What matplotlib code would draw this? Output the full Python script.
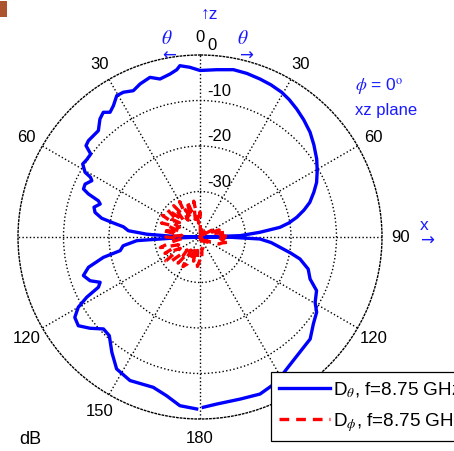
import numpy as np
import matplotlib
matplotlib.use("Agg")
import matplotlib.pyplot as plt
from matplotlib.patches import Rectangle

plt.rcParams['font.family'] = ['Liberation Sans', 'DejaVu Sans']
plt.rcParams['mathtext.fontset'] = 'stix'
plt.rcParams['lines.scale_dashes'] = False

# D_theta in dB, phi = 180 half (drawn on the left), angle from +z
theta_left = [178.9, 173.2, 168.1, 162.7, 154.0, 147.7, 142.6, 137.4, 133.6, 129.7,
              126.1, 122.7, 120.0, 118.0, 116.3, 114.4, 111.7, 108.3, 105.2, 101.9,
              99.7, 96.5, 93.3, 92.5, 90.0, 88.5, 87.0, 85.0, 82.4, 80.8,
              79.2, 76.8, 74.3, 71.7, 70.4, 68.9, 67.6, 65.3, 62.5, 61.4,
              60.6, 58.1, 55.7, 52.8, 51.3, 49.2, 46.5, 43.7, 40.3, 37.8,
              35.8, 33.4, 30.5, 27.9, 24.5, 21.4, 17.4, 14.2, 10.4, 7.9,
              6.7, 3.4]
dtheta_left = [-2.2, -2.66, -4.35, -5.4, -4.9, -5.7, -8.1, -10.55, -10.7, -8.6,
               -6.9, -7.3, -9.1, -11.8, -15.1, -15.9, -14.0, -13.0, -14.6, -18.3,
               -22.2, -23.0, -26.1, -33.4, -40.0, -34.0, -28.3, -24.2, -23.0, -20.7,
               -18.0, -16.3, -15.8, -16.9, -16.3, -13.7, -12.3, -12.2, -13.2, -12.6,
               -11.0, -9.63, -9.85, -9.85, -7.9, -7.6, -7.67, -7.67, -6.0, -5.32,
               -6.2, -5.43, -3.95, -4.0, -4.66, -3.88, -3.23, -4.18, -3.58, -2.88,
               -2.09, -2.64]

# D_theta in dB, phi = 0 half (drawn on the right)
theta_right = [0.0, 5.7, 11.3, 16.0, 20.8, 25.0, 29.4, 33.0, 37.1, 41.5,
               46.4, 51.0, 56.2, 60.5, 64.9, 68.5, 72.5, 75.5, 78.5, 81.0,
               83.1, 85.5, 88.1, 90.0, 90.6, 91.9, 94.5, 97.3, 100.0, 102.4,
               106.5, 110.9, 114.7, 119.6, 122.8, 127.5, 132.8, 139.1, 146.7, 152.2,
               159.1, 166.1, 174.3, 178.9]
dtheta_right = [-3.4, -3.05, -2.5, -2.6, -2.86, -3.1, -3.47, -4.0, -4.75, -5.6,
                -6.6, -7.8, -9.14, -10.4, -11.7, -13.1, -14.7, -16.4, -18.3, -20.2,
                -22.3, -26.8, -31.2, -40.0, -33.0, -26.8, -24.3, -22.3, -19.8, -17.5,
                -15.2, -14.1, -11.8, -10.9, -9.5, -8.6, -7.0, -6.5, -5.3, -3.9,
                -3.05, -3.3, -3.1, -2.57]

# D_phi in dB, signed angle (negative = phi 180 half)
phi_ang = list(range(-180, 181, 5))
dphi = [-35.0, -33.5, -37.0, -34.5, -37.5, -33.5, -32.5, -36.5, -32.5, -36.0,
        -31.5, -30.8, -35.0, -31.5, -35.0, -31.0, -33.5, -36.0, -32.5, -36.0,
        -31.5, -35.5, -31.0, -35.0, -30.5, -34.5, -30.5, -35.0, -31.0, -35.5,
        -31.0, -35.5, -31.5, -36.0, -32.0, -37.0, -34.5, -39.0, -37.5, -39.5,
        -38.5, -40.0, -39.0, -40.0, -38.5, -39.5, -38.0, -39.0, -37.0, -38.0,
        -35.5, -37.0, -34.0, -35.5, -33.5, -35.5, -33.5, -35.0, -35.5, -37.5,
        -38.5, -38.0, -39.5, -38.5, -40.0, -39.0, -40.0, -39.0, -39.5, -37.5,
        -37.5, -35.5, -35.0]

ang_theta = np.radians(np.concatenate([-np.array(theta_left), theta_right]))
d_theta = np.concatenate([dtheta_left, dtheta_right])

W, H = 454, 452
fig = plt.figure(figsize=(W / 100, H / 100), dpi=100)


def fx(x, y):
    return x / W, 1 - y / H


ax = fig.add_axes([18 / W, 32 / H, 364 / W, 364 / H], projection='polar')
ax.set_theta_zero_location('N')
ax.set_theta_direction(-1)
ax.set_rlim(-40, 0)
ax.set_thetagrids(range(0, 360, 30), [''] * 12)
ax.set_rgrids([-30, -20, -10], [''] * 3)
ax.grid(True, color='black', linestyle=':', linewidth=1.0)
ax.spines['polar'].set_linestyle(':')
ax.spines['polar'].set_linewidth(1.0)
ax.tick_params(length=0)

l1, = ax.plot(ang_theta, d_theta, color='#0000ff', lw=2.4,
              solid_joinstyle='round', label=r'D$_\theta$, f=8.75 GHz')
l2, = ax.plot(np.radians(phi_ang), dphi, color='#ff0000', lw=2.4,
              linestyle=(0, (7, 5)), label=r'D$_\phi$, f=8.75 GHz')

# angle labels: 0..180 on both sides
tick_ang = [0, 30, 60, 90, 120, 150, 180, 210, 240, 300, 330]
tick_txt = ['0', '30', '60', '90', '120', '150', '180', '150', '120', '60', '30']
for a, t in zip(tick_ang, tick_txt):
    ax.text(np.radians(a), 4.0, t, ha='center', va='center', fontsize=12,
            clip_on=False)

# dB labels next to the z axis
for r in [0, -10, -20, -30]:
    ax.annotate(str(r), xy=(0, r), xytext=(5.5, 7.2), textcoords='offset points',
                ha='left', va='center', fontsize=12)

blue = '#1a1aff'
fig.text(*fx(209, 14), '↑z', color=blue, ha='center', va='center', fontsize=12.5)
fig.text(*fx(167, 39), r'$\theta$', color=blue, ha='center', va='center', fontsize=14)
fig.text(*fx(169, 56), '←', color=blue, ha='center', va='center', fontsize=12,
         family='DejaVu Sans')
fig.text(*fx(243, 39), r'$\theta$', color=blue, ha='center', va='center', fontsize=14)
fig.text(*fx(246, 56), '→', color=blue, ha='center', va='center', fontsize=12,
         family='DejaVu Sans')
fig.text(*fx(355, 87), r'$\phi$ = 0$^{\rm o}$', color=blue, ha='left', va='center',
         fontsize=12.5)
fig.text(*fx(355, 110), 'xz plane', color=blue, ha='left', va='center', fontsize=12)
fig.text(*fx(424, 226), 'x', color=blue, ha='center', va='center', fontsize=12.5)
fig.text(*fx(427, 241), '→', color=blue, ha='center', va='center', fontsize=12,
         family='DejaVu Sans')
fig.text(*fx(30, 440), 'dB', ha='center', va='center', fontsize=13)

leg = fig.legend(handles=[l1, l2], loc='upper left',
                 bbox_to_anchor=fx(270.7, 372.7), bbox_transform=fig.transFigure,
                 borderaxespad=0, fontsize=13.6, frameon=True, fancybox=False,
                 framealpha=1, edgecolor='black', handlelength=2.7,
                 handletextpad=0.17, borderpad=0.42, labelspacing=0.6)
leg.get_frame().set_linewidth(0.9)

fig.patches.append(Rectangle(fx(0, 18), 7 / W, 16 / H, transform=fig.transFigure,
                             facecolor=(0.67, 0.33, 0.18), edgecolor='none'))

fig.savefig('out.png', dpi=100)
